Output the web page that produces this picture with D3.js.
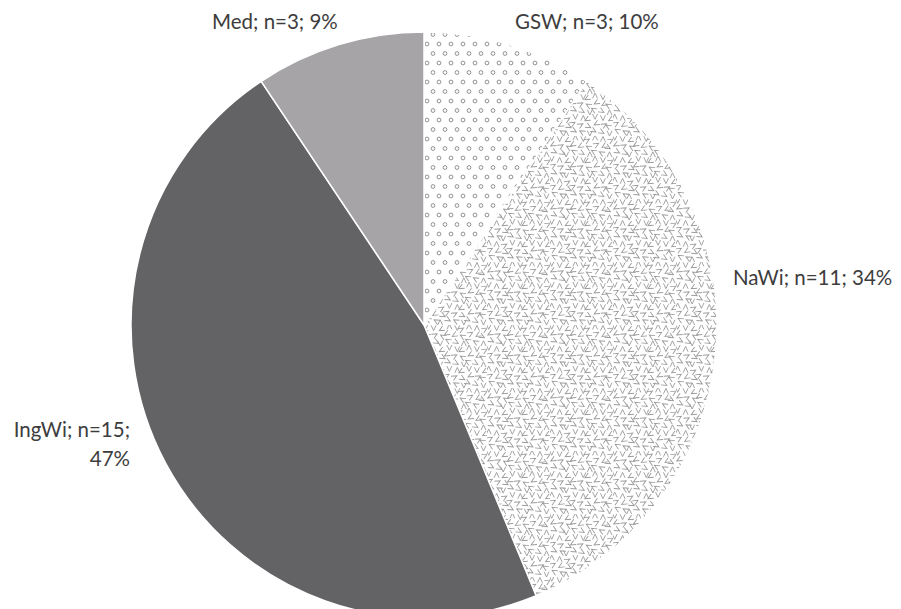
<!DOCTYPE html>
<html>
<head>
<meta charset="utf-8">
<script src="https://cdn.jsdelivr.net/npm/d3@7"></script>
<style>
  html, body { margin: 0; padding: 0; background: #fff; }
  svg { display: block; }
  text { font-family: Lato, "Open Sans", sans-serif; fill: #3d3d3d; }
</style>
</head>
<body>
<script>
// Pupils by subject group: counts and rounded shares
const categories = ["GSW", "NaWi", "IngWi", "Med"];
const counts = [3, 11, 15, 3];
const percents = [10, 34, 47, 9];

const width = 901, height = 609;
const cx = 424, cy = 325, radius = 293;

const svg = d3.select("body").append("svg")
  .attr("width", width)
  .attr("height", height);

svg.append("rect").attr("width", width).attr("height", height).attr("fill", "#fff");

const defs = svg.append("defs");

// Small open circles on a staggered grid
const circ = defs.append("pattern")
  .attr("id", "pat-circles")
  .attr("patternUnits", "userSpaceOnUse")
  .attr("width", 24).attr("height", 19);
[[3, 4], [15, 4], [27, 4], [9, 13.5], [21, 13.5], [-3, 13.5]].forEach(([x, y]) => {
  circ.append("circle")
    .attr("cx", x).attr("cy", y).attr("r", 1.9)
    .attr("fill", "none").attr("stroke", "#858585").attr("stroke-width", 0.9);
});

// Scattered "V" marks; jitter and orientation come from fixed integer
// steps so the texture looks irregular without lining up in streaks
const tile = 63, step = 7;
const vee = defs.append("pattern")
  .attr("id", "pat-vees")
  .attr("patternUnits", "userSpaceOnUse")
  .attr("width", tile).attr("height", tile);
let k = 0;
for (let gy = 0; gy < tile / step; gy++) {
  for (let gx = 0; gx < tile / step; gx++, k++) {
    const jx = ((k * 11 + gy * 3) % 9 - 4) * 0.45;
    const jy = ((k * 7 + gx * 5) % 9 - 4) * 0.45;
    const x = gx * step + step / 2 + jx;
    const y = gy * step + step / 2 + jy;
    const rot = ((k * k * 37 + gx * 71 + gy * 113) % 12) * 30;
    vee.append("path")
      .attr("d", "M-2.5,-2.7 L0,2.6 L2.5,-2.7")
      .attr("transform", `translate(${x},${y}) rotate(${rot})`)
      .attr("fill", "none")
      .attr("stroke", "#9a9a9a")
      .attr("stroke-width", 0.9);
  }
}

const fills = ["url(#pat-circles)", "url(#pat-vees)", "#636365", "#a6a4a7"];

const pie = d3.pie().sort(null).value(d => d)
  .startAngle(0).endAngle(2 * Math.PI);
const arcs = pie(counts);
const arc = d3.arc().innerRadius(0).outerRadius(radius);

const g = svg.append("g").attr("transform", `translate(${cx},${cy})`);
g.selectAll("path.slice")
  .data(arcs)
  .join("path")
  .attr("class", "slice")
  .attr("d", arc)
  .attr("fill", (d, i) => fills[i])
  .attr("stroke", "#fff")
  .attr("stroke-width", 1.5);

// Label placement (absolute page coordinates)
const labelLayout = [
  { x: 515, y: 29, anchor: "start" },
  { x: 733, y: 285, anchor: "start" },
  { x: 130, y: 437, anchor: "end", wrap: true },
  { x: 212, y: 29, anchor: "start" }
];

categories.forEach((c, i) => {
  const L = labelLayout[i];
  const t = svg.append("text")
    .attr("x", L.x).attr("y", L.y)
    .attr("text-anchor", L.anchor)
    .attr("font-size", 20.5);
  if (L.wrap) {
    t.append("tspan").attr("x", L.x).text(`${c}; n=${counts[i]};`);
    t.append("tspan").attr("x", L.x).attr("dy", 29).text(`${percents[i]}%`);
  } else {
    t.text(`${c}; n=${counts[i]}; ${percents[i]}%`);
  }
});
</script>
</body>
</html>
